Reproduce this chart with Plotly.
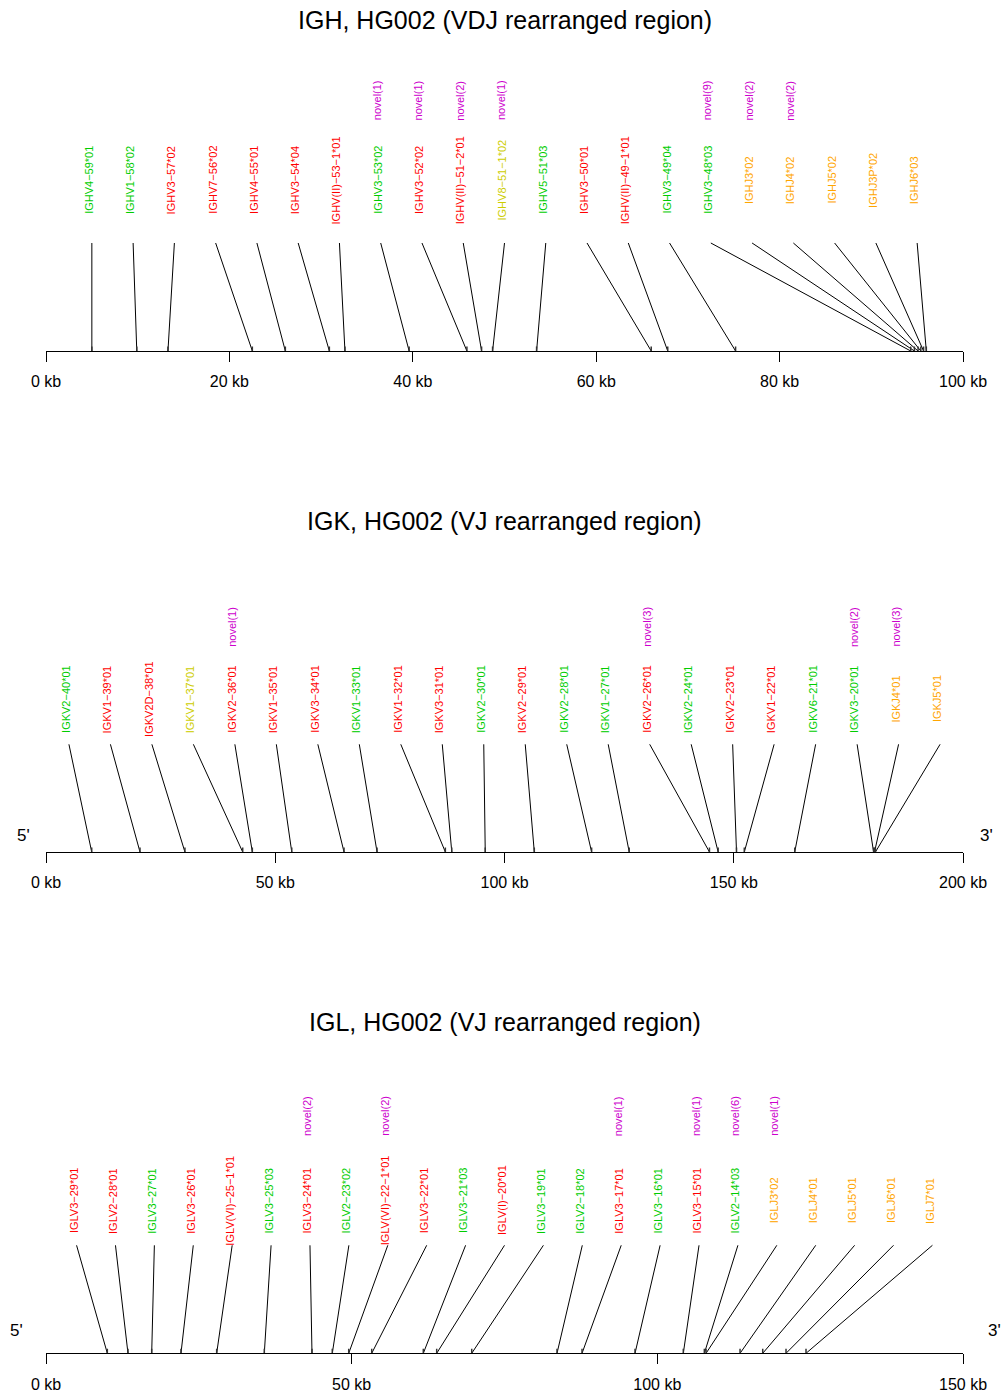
import numpy as np
import plotly.graph_objects as go

W, H = 1001, 1393

# ---------------- data ----------------
igh_genes = ["IGHV4−59*01", "IGHV1−58*02", "IGHV3−57*02", "IGHV7−56*02", "IGHV4−55*01",
             "IGHV3−54*04", "IGHV(II)−53−1*01", "IGHV3−53*02", "IGHV3−52*02", "IGHV(II)−51−2*01",
             "IGHV8−51−1*02", "IGHV5−51*03", "IGHV3−50*01", "IGHV(II)−49−1*01", "IGHV3−49*04",
             "IGHV3−48*03", "IGHJ3*02", "IGHJ4*02", "IGHJ5*02", "IGHJ3P*02", "IGHJ6*03"]
igh_types = ["F", "F", "P", "P", "P", "P", "P", "F", "P", "P",
             "O", "F", "P", "P", "F", "F", "J", "J", "J", "J", "J"]
igh_pos_kb = [5.0, 9.9, 13.3, 22.5, 26.1, 30.9, 32.6, 39.6, 45.9, 47.5,
              48.7, 53.5, 66.0, 67.8, 75.2, 94.3, 94.7, 95.1, 95.4, 95.7, 96.0]
igh_novel = [0, 0, 0, 0, 0, 0, 0, 1, 1, 2, 1, 0, 0, 0, 0, 9, 2, 2, 0, 0, 0]
igh_ticks = [0, 20, 40, 60, 80, 100]

igk_genes = ["IGKV2−40*01", "IGKV1−39*01", "IGKV2D−38*01", "IGKV1−37*01", "IGKV2−36*01",
             "IGKV1−35*01", "IGKV3−34*01", "IGKV1−33*01", "IGKV1−32*01", "IGKV3−31*01",
             "IGKV2−30*01", "IGKV2−29*01", "IGKV2−28*01", "IGKV1−27*01", "IGKV2−26*01",
             "IGKV2−24*01", "IGKV2−23*01", "IGKV1−22*01", "IGKV6−21*01", "IGKV3−20*01",
             "IGKJ4*01", "IGKJ5*01"]
igk_types = ["F", "P", "P", "O", "P", "P", "P", "F", "P", "P",
             "F", "P", "F", "F", "P", "F", "P", "P", "F", "F", "J", "J"]
igk_pos_kb = [9.97, 20.5, 30.3, 42.9, 45.0, 53.6, 65.0, 72.2, 87.1, 88.5,
              95.8, 106.5, 119.0, 127.2, 144.7, 146.6, 150.6, 152.3, 163.3, 180.5,
              180.7, 180.9]
igk_novel = [0, 0, 0, 0, 1, 0, 0, 0, 0, 0, 0, 0, 0, 0, 3, 0, 0, 0, 0, 2, 3, 0]
igk_ticks = [0, 50, 100, 150, 200]

igl_genes = ["IGLV3−29*01", "IGLV2−28*01", "IGLV3−27*01", "IGLV3−26*01", "IGLV(VI)−25−1*01",
             "IGLV3−25*03", "IGLV3−24*01", "IGLV2−23*02", "IGLV(VI)−22−1*01", "IGLV3−22*01",
             "IGLV3−21*03", "IGLV(I)−20*01", "IGLV3−19*01", "IGLV2−18*02", "IGLV3−17*01",
             "IGLV3−16*01", "IGLV3−15*01", "IGLV2−14*03", "IGLJ3*02", "IGLJ4*01",
             "IGLJ5*01", "IGLJ6*01", "IGLJ7*01"]
igl_types = ["P", "P", "F", "P", "P", "F", "P", "F", "P", "P",
             "F", "P", "F", "F", "P", "F", "P", "F", "J", "J", "J", "J", "J"]
igl_pos_kb = [10.03, 13.41, 17.29, 22.08, 27.92, 35.71, 43.51, 46.83, 49.52, 53.28,
              61.72, 63.91, 69.64, 83.59, 87.68, 96.35, 104.25, 107.69, 107.97, 113.53,
              117.24, 121.05, 124.32]
igl_novel = [0, 0, 0, 0, 0, 0, 2, 0, 2, 0, 0, 0, 0, 0, 1, 0, 1, 6, 1, 0, 0, 0, 0]
igl_ticks = [0, 50, 100, 150]

type_colors = {"F": "#00CD00", "P": "#FF0000", "O": "#CDCD00", "J": "#FFA500"}
novel_color = "#CD00CD"

# ---------------- layout constants ----------------
X0, X1 = 46, 963
FONT = "Liberation Sans, Arial, Helvetica, sans-serif"

panels = [
    dict(title="IGH, HG002 (VDJ rearranged region)", genes=igh_genes, types=igh_types,
         pos=igh_pos_kb, novel=igh_novel, length=100, ticks=igh_ticks, ends=False,
         y_title=20, y_novel=100.5, y_label=180, y_top=243, y_axis=351, y_panel=60),
    dict(title="IGK, HG002 (VJ rearranged region)", genes=igk_genes, types=igk_types,
         pos=igk_pos_kb, novel=igk_novel, length=200, ticks=igk_ticks, ends=True,
         y_title=521, y_novel=627, y_label=699, y_top=744.3, y_axis=852, y_panel=590,
         x5=23, x3=986, y_end=835),
    dict(title="IGL, HG002 (VJ rearranged region)", genes=igl_genes, types=igl_types,
         pos=igl_pos_kb, novel=igl_novel, length=150, ticks=igl_ticks, ends=True,
         y_title=1022, y_novel=1116, y_label=1200.5, y_top=1245.3, y_axis=1353.3,
         y_panel=1090, x5=16, x3=994, y_end=1330),
]

fig = go.Figure()
annotations = []
layout_axes = {}

for i, p in enumerate(panels, start=1):
    sfx = "" if i == 1 else str(i)
    xa, ya = "x" + sfx, "y" + sfx
    n = len(p["genes"])
    L = p["length"]
    label_x = np.linspace(5, L - 5, n)

    # connector lines
    xs, ys = [], []
    for lx, gx in zip(label_x, p["pos"]):
        xs += [lx, gx, None]
        ys += [p["y_top"], p["y_axis"], None]
    fig.add_trace(go.Scatter(x=xs, y=ys, xaxis=xa, yaxis=ya, mode="lines",
                             line=dict(color="black", width=1), hoverinfo="skip",
                             showlegend=False, cliponaxis=False))
    # gene marks on the axis
    mx, my = [], []
    for gx in p["pos"]:
        mx += [gx, gx, None]
        my += [p["y_axis"] - 4.5, p["y_axis"] + 4.5, None]
    fig.add_trace(go.Scatter(x=mx, y=my, xaxis=xa, yaxis=ya, mode="lines",
                             line=dict(color="#333333", width=1.5), hoverinfo="skip",
                             showlegend=False, cliponaxis=False))

    # gene labels
    for lx, g, t, nv in zip(label_x, p["genes"], p["types"], p["novel"]):
        annotations.append(dict(x=lx, y=p["y_label"], xref=xa, yref=ya, text=g,
                                textangle=-90, showarrow=False, xshift=-3,
                                font=dict(family=FONT, size=11, color=type_colors[t]),
                                xanchor="center", yanchor="middle"))
        if nv:
            annotations.append(dict(x=lx, y=p["y_novel"], xref=xa, yref=ya,
                                    text=f"novel({nv})", textangle=-90, showarrow=False,
                                    xshift=-3,
                                    font=dict(family=FONT, size=11, color=novel_color),
                                    xanchor="center", yanchor="middle"))
    # title
    annotations.append(dict(x=(X0 + X1) / 2 / W, y=1 - p["y_title"] / H, xref="paper",
                            yref="paper", text=p["title"], showarrow=False,
                            font=dict(family=FONT, size=25, color="black"),
                            xanchor="center", yanchor="middle"))
    if p["ends"]:
        for txt, xe in (("5'", p["x5"]), ("3'", p["x3"])):
            annotations.append(dict(x=xe / W, y=1 - p["y_end"] / H, xref="paper",
                                    yref="paper", text=txt, showarrow=False,
                                    font=dict(family=FONT, size=17, color="black"),
                                    xanchor="center", yanchor="middle"))

    layout_axes["xaxis" + sfx] = dict(
        domain=[X0 / W, X1 / W], range=[0, L], anchor=ya, side="bottom",
        showline=True, linecolor="black", linewidth=1,
        ticks="outside", ticklen=10, tickwidth=1, tickcolor="black",
        tickvals=p["ticks"], ticktext=[f"{v} kb" for v in p["ticks"]],
        tickfont=dict(family=FONT, size=16, color="black"), ticklabelstandoff=6,
        showgrid=False, zeroline=False, fixedrange=True, automargin=False,
    )
    layout_axes["yaxis" + sfx] = dict(
        domain=[1 - p["y_axis"] / H, 1 - p["y_panel"] / H],
        range=[p["y_axis"], p["y_panel"]], anchor=xa, visible=False,
        fixedrange=True, automargin=False,
    )

fig.update_layout(
    width=W, height=H, margin=dict(l=0, r=0, t=0, b=0, autoexpand=False),
    paper_bgcolor="white", plot_bgcolor="white",
    annotations=annotations, showlegend=False,
    **layout_axes,
)

fig.write_html("out.html")
